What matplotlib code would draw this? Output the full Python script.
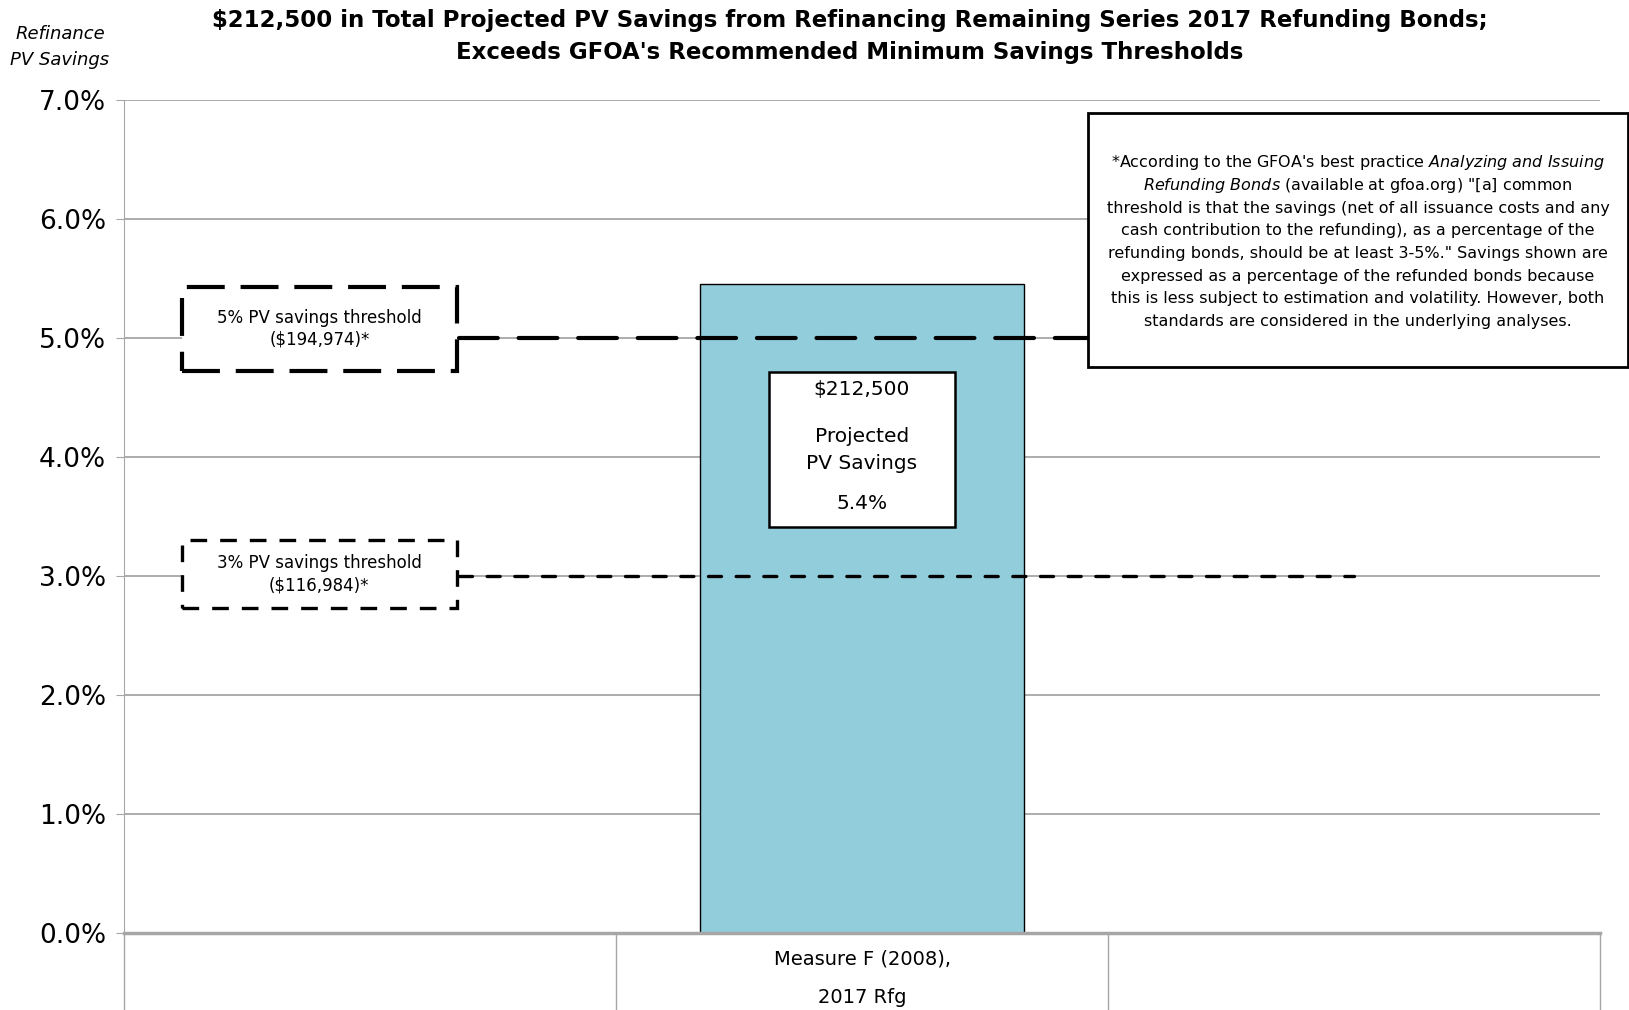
import numpy as np
import matplotlib.pyplot as plt
from matplotlib.patches import Rectangle
from matplotlib.ticker import FuncFormatter

plt.rcParams['font.family'] = 'DejaVu Sans'
plt.rcParams['mathtext.fontset'] = 'custom'
plt.rcParams['mathtext.rm'] = 'DejaVu Sans'
plt.rcParams['mathtext.it'] = 'DejaVu Sans:italic'

# Datos del grafico
categorias = ['', 'Measure F (2008),\n2017 Rfg', '']
ahorro_pct = [0.0, 5.45, 0.0]          # % PV savings (0 = sin barra)
ahorro_dolares = '$212,500'
ahorro_etiqueta = '5.4%'
umbrales_pct = [5.0, 3.0]
umbrales_dolares = ['$194,974', '$116,984']

titulo = ('$212,500 in Total Projected PV Savings from Refinancing Remaining Series 2017 Refunding Bonds;',
          "Exceeds GFOA's Recommended Minimum Savings Thresholds")
nota = [
    r"*According to the GFOA's best practice $\mathit{Analyzing\ and\ Issuing}$",
    r'$\mathit{Refunding\ Bonds}$ (available at gfoa.org) "[a] common',
    'threshold is that the savings (net of all issuance costs and any',
    'cash contribution to the refunding), as a percentage of the',
    'refunding bonds, should be at least 3-5%." Savings shown are',
    'expressed as a percentage of the refunded bonds because',
    'this is less subject to estimation and volatility. However, both',
    'standards are considered in the underlying analyses.',
]

gris = '#A6A6A6'
W, H = 1629, 1010

fig = plt.figure(figsize=(W / 100, H / 100), dpi=100)
ax = fig.add_axes([124 / W, 1 - 933 / H, (1600 - 124) / W, (933 - 100) / H])

x = np.arange(len(categorias))
con_barra = [i for i, v in enumerate(ahorro_pct) if v > 0]
ax.bar(x[con_barra], [ahorro_pct[i] for i in con_barra], width=0.66,
       color='#92CDDC', edgecolor='black', linewidth=1, zorder=2)

ax.set_xlim(-0.5, len(categorias) - 0.5)
ax.set_ylim(0, 7)
ax.set_yticks(np.arange(0, 7.01, 1))
ax.yaxis.set_major_formatter(FuncFormatter(lambda v, p: f'{v:.1f}%'))
ax.yaxis.grid(True, color=gris, lw=1.3)
ax.set_axisbelow(True)
for s in ['top', 'right']:
    ax.spines[s].set_visible(False)
ax.spines['left'].set_color(gris)
ax.spines['bottom'].set_color(gris)
ax.spines['bottom'].set_linewidth(2.5)
ax.tick_params(axis='y', colors=gris, labelcolor='black', labelsize=19, length=6, pad=7)

ax.set_xticks(x)
ax.set_xticklabels(categorias, linespacing=2.3)
ax.set_xticks(np.arange(-0.5, len(categorias)), minor=True)
ax.tick_params(axis='x', which='major', length=0, pad=12, labelsize=14)
ax.tick_params(axis='x', which='minor', length=56, color=gris, width=1)

# Lineas de umbral y sus cuadros
estilos = [
    dict(lw=3.0, dash=(9.3, 5.0), caja_lw=3.0, caja_dash=(9.1, 3.8), abajo=0.276, arriba=0.431),
    dict(lw=2.4, dash=(3.9, 4.4), caja_lw=2.4, caja_dash=(5.0, 3.9), abajo=0.267, arriba=0.301),
]
for t, d, e in zip(umbrales_pct, umbrales_dolares, estilos):
    ax.plot([0.18, 2.0], [t, t], color='black', lw=e['lw'], linestyle=(0, e['dash']),
            dash_capstyle='round', zorder=4)
    ax.add_patch(Rectangle((-0.3825, t - e['abajo']), 0.56, e['abajo'] + e['arriba'],
                           facecolor='white', edgecolor='black', lw=e['caja_lw'],
                           linestyle=(0, e['caja_dash']), zorder=5))
    ax.text(-0.103, t + (e['arriba'] - e['abajo']) / 2,
            f'{t:.0f}% PV savings threshold\n({d})*',
            ha='center', va='center', fontsize=12, linespacing=1.3, zorder=6)

# Cuadro con el valor de la barra
v = ahorro_pct[1]
ax.add_patch(Rectangle((1 - 0.19, v - 2.036), 0.38, 1.30, facecolor='white',
                       edgecolor='black', lw=1.8, zorder=5))
ax.text(1, v - 0.884, ahorro_dolares, ha='center', va='center', fontsize=14.5, zorder=6)
ax.text(1, v - 1.276, 'Projected', ha='center', va='center', fontsize=14.5, zorder=6)
ax.text(1, v - 1.504, 'PV Savings', ha='center', va='center', fontsize=14.5, zorder=6)
ax.text(1, v - 1.844, ahorro_etiqueta, ha='center', va='center', fontsize=14.5, zorder=6)

# Nota GFOA
fig.add_artist(Rectangle((1088 / W, 1 - 367 / H), (1628 - 1088) / W, (367 - 113) / H,
                         transform=fig.transFigure, facecolor='white',
                         edgecolor='black', lw=2, zorder=5))
for i, linea in enumerate(nota):
    fig.text(1358 / W, 1 - (163 + 22.6 * i) / H, linea, ha='center', va='center',
             fontsize=11.5, zorder=6)

# Titulo y etiqueta del eje
fig.text(850 / W, 1 - 21 / H, titulo[0], ha='center', va='center',
         fontsize=16.5, fontweight='bold')
fig.text(850 / W, 1 - 52 / H, titulo[1], ha='center', va='center',
         fontsize=16.5, fontweight='bold')
fig.text(60 / W, 1 - 34 / H, 'Refinance', ha='center', va='center',
         fontsize=13, style='italic')
fig.text(60 / W, 1 - 60 / H, 'PV Savings', ha='center', va='center',
         fontsize=13, style='italic')

fig.savefig('out.png', dpi=100)
